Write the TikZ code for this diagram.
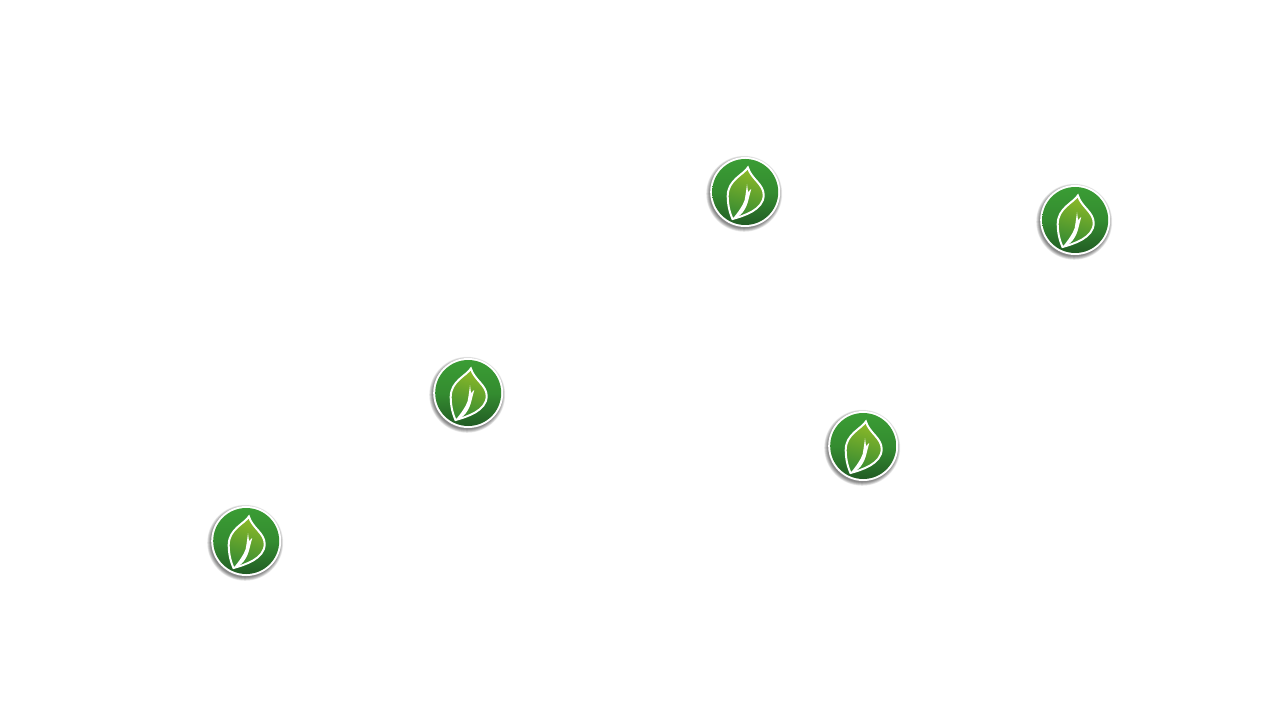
\documentclass[tikz,border=0pt]{standalone}
\usepackage{tikz}

\definecolor{discTop}{RGB}{58,156,52}
\definecolor{discBot}{RGB}{34,92,36}
\definecolor{leafTop}{RGB}{140,185,40}
\definecolor{leafBot}{RGB}{56,140,50}

\tikzset{
  leafbadge/.pic={
    % soft shadow
    \foreach \r in {38,37.5,37,36.5,36,35.5,35,34.5}
    \fill[black,opacity=0.07] (-1,-1.8) circle (\r);
    \fill[white] (0,0) circle (35);
    \shade[top color=discTop,bottom color=discBot,middle color=discTop!75!discBot] (0,0) circle (33);
    % leaf
    \shade[top color=leafTop,bottom color=leafBot,shading angle=-15,draw=white,line width=2pt]
      (2.7,24.5) .. controls (-2,17) and (-17.5,12) .. (-17.5,-4)
      .. controls (-17.5,-14) and (-15,-22) .. (-12.7,-27)
      .. controls (-2,-24) and (18.5,-18) .. (18.5,-3)
      .. controls (18.5,8) and (6,13) .. (2.7,24.5) -- cycle;
    % stem
    \fill[white] (-12.7,-27) .. controls (-7,-20) and (-2.5,-14) .. (-0.5,-8)
      .. controls (0.5,-2) and (1.2,3) .. (1.8,8) -- (2.8,0) -- (6,3) -- (3.2,-8)
      .. controls (1,-17) and (-4,-25) .. (-12.7,-27) -- cycle;
  }
}

\begin{document}
\begin{tikzpicture}[x=1pt,y=-1pt]
\useasboundingbox (0,0) rectangle (1280,719);
\fill[white] (0,0) rectangle (1280,719);

\foreach \px/\py in {745.2/192,1075.2/220,468.2/393,863.2/446,246.2/541}
\pic[yscale=-1] at (\px,\py) {leafbadge};
\end{tikzpicture}
\end{document}
